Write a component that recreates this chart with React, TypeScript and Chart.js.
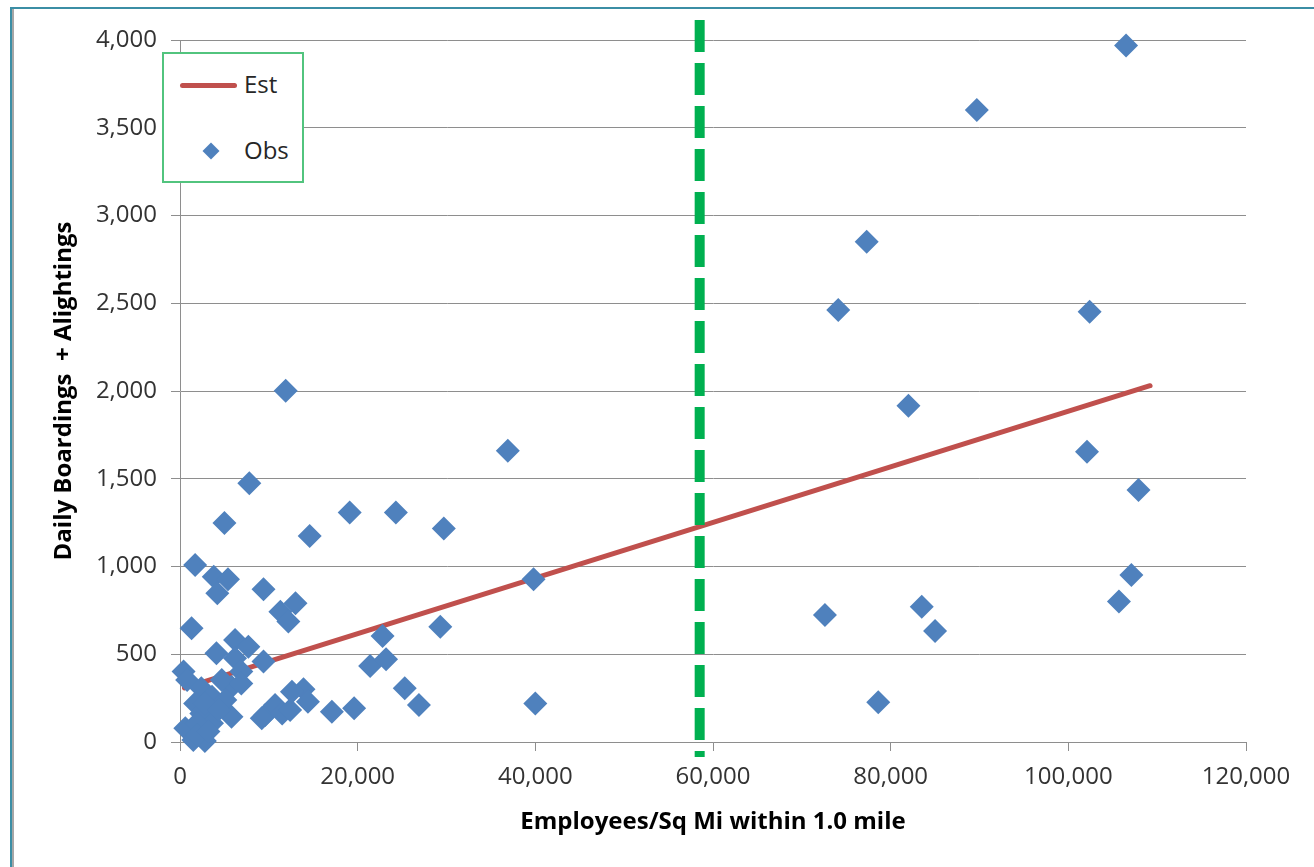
import React, { useEffect, useRef } from 'react';
import { Chart, registerables } from 'chart.js';

Chart.register(...registerables);

// Observed stations: employees / sq mi (x) vs daily boardings + alightings (y)
const obsX = [
  106500, 89700, 77300, 74100, 102400, 82000, 102100, 107900, 107100, 105700,
  72600, 83500, 85000, 78600, 36900, 19100, 24300, 29700, 14600, 39800,
  22800, 29300, 21400, 23200, 25300, 26900, 17100, 19600, 40000, 13900,
  14400, 11900, 7800, 5000, 1700, 3800, 5400, 4200, 9400, 13000,
  11300, 12200, 1300, 6200, 7700, 4100, 6200, 9400, 400, 6900,
  800, 2400, 5800, 3600, 1700, 5100, 2400, 5800, 600, 3600,
  1500, 2800, 9600, 10700, 11500, 9200, 12400, 12600, 2800, 4700,
  6900, 1900, 4300, 2000, 3200,
];
const obsY = [
  3968, 3601, 2851, 2462, 2452, 1916, 1654, 1436, 952, 800,
  724, 771, 632, 226, 1660, 1307, 1307, 1217, 1174, 927,
  604, 657, 433, 471, 306, 211, 173, 192, 220, 300,
  230, 2002, 1474, 1248, 1008, 942, 927, 847, 870, 790,
  742, 686, 648, 581, 543, 505, 477, 458, 401, 401,
  353, 306, 315, 258, 220, 239, 163, 144, 78, 107,
  11, 5, 154, 211, 163, 135, 182, 287, 220, 353,
  334, 107, 182, 40, 60,
];

// Estimated (trend) line
const estX = [500, 109200];
const estY = [308, 2030];

// Vertical threshold line (green dashed)
const thresholdX = [58500, 58500];
const thresholdY = [4114, -85];

const xTickMin = 0;
const xTickMax = 120000;
const xTickStep = 20000;
const yTickMin = 0;
const yTickMax = 4000;
const yTickStep = 500;

const xTitle = 'Employees/Sq Mi within 1.0 mile';
const yTitle = 'Daily Boardings  + Alightings';
const legendLabels = ['Est', 'Obs'];

const FONT = "'Open Sans', sans-serif";
const GRID = '#8E8E8E';

export default function App() {
  const canvasRef = useRef<HTMLCanvasElement | null>(null);

  useEffect(() => {
    const canvas = canvasRef.current;
    if (!canvas) return;
    const fmt = (v: any) => Number(v).toLocaleString('en-US');
    const chart = new Chart(canvas, {
      type: 'scatter',
      data: {
        datasets: [
          {
            label: 'Obs',
            data: obsX.map((x, i) => ({ x, y: obsY[i] })),
            pointStyle: 'rectRot',
            pointRadius: 12,
            backgroundColor: '#4F81BD',
            borderColor: '#4F81BD',
            borderWidth: 0,
            clip: false,
            order: 1,
          } as any,
          {
            label: 'Threshold',
            data: thresholdX.map((x, i) => ({ x, y: thresholdY[i] })),
            showLine: true,
            pointRadius: 0,
            borderColor: '#00B050',
            borderWidth: 10,
            borderDash: [32, 11],
            borderCapStyle: 'butt',
            clip: false,
            order: 2,
          } as any,
          {
            label: 'Est',
            data: estX.map((x, i) => ({ x, y: estY[i] })),
            showLine: true,
            pointRadius: 0,
            borderColor: '#C0504D',
            borderWidth: 5,
            borderCapStyle: 'round',
            clip: false,
            order: 3,
          } as any,
        ],
      },
      options: {
        responsive: false,
        animation: false,
        devicePixelRatio: 1,
        events: [],
        layout: { padding: { top: 40, right: 68, left: 0, bottom: 0 } },
        plugins: {
          legend: { display: false },
          tooltip: { enabled: false },
        },
        scales: {
          x: {
            type: 'linear',
            min: xTickMin,
            max: xTickMax,
            ticks: {
              stepSize: xTickStep,
              font: { family: FONT, size: 24 },
              color: '#333333',
              padding: 12,
              callback: fmt,
              maxRotation: 0,
            },
            grid: {
              drawOnChartArea: false,
              drawTicks: true,
              tickLength: 9,
              color: GRID,
            },
            border: { color: GRID, width: 1 },
            title: {
              display: true,
              text: xTitle,
              font: { family: FONT, size: 24, weight: 'bold' },
              color: '#000000',
              padding: { top: 0, bottom: 30 },
            },
            afterFit: (s: any) => {
              s.height = 125;
            },
          },
          y: {
            type: 'linear',
            min: yTickMin,
            max: yTickMax,
            ticks: {
              stepSize: yTickStep,
              font: { family: FONT, size: 24 },
              color: '#333333',
              padding: 14,
              callback: fmt,
            },
            grid: {
              color: GRID,
              tickLength: 9,
            },
            border: { color: GRID, width: 1 },
            title: {
              display: true,
              text: yTitle,
              font: { family: FONT, size: 24, weight: 'bold' },
              color: '#000000',
              padding: { top: 50, bottom: 0 },
            },
            afterFit: (s: any) => {
              s.width = 180;
            },
          },
        },
      } as any,
    });
    return () => chart.destroy();
  }, []);

  const textStyle: React.CSSProperties = {
    position: 'absolute',
    left: 80,
    fontFamily: FONT,
    fontSize: 24,
    lineHeight: '28px',
    color: '#262626',
    whiteSpace: 'nowrap',
  };

  return (
    <div style={{ position: 'absolute', left: 0, top: 0, width: 1314, height: 867, background: '#ffffff', overflow: 'hidden' }}>
      <canvas ref={canvasRef} width={1314} height={867} style={{ position: 'absolute', left: 0, top: 0, width: 1314, height: 867 }} />
      {/* outer frame */}
      <div style={{ position: 'absolute', left: 10, top: 7, width: 1304, height: 860, borderTop: '2px solid #3B8EA5', borderLeft: '2px solid #3B8EA5', boxSizing: 'border-box', pointerEvents: 'none' }} />
      <div style={{ position: 'absolute', left: 12, top: 9, width: 2, height: 858, background: '#A6A6A6', pointerEvents: 'none' }} />
      {/* legend */}
      <div style={{ position: 'absolute', left: 162, top: 52, width: 142, height: 131, border: '2px solid #52C47E', boxSizing: 'border-box', background: '#ffffff' }}>
        <div style={{ position: 'absolute', left: 16, top: 29, width: 57, height: 5, borderRadius: 3, background: '#C0504D' }} />
        <div style={{ ...textStyle, top: 16 }}>{legendLabels[0]}</div>
        <div style={{ position: 'absolute', left: 41, top: 91, width: 12, height: 12, background: '#4F81BD', transform: 'rotate(45deg)' }} />
        <div style={{ ...textStyle, top: 82 }}>{legendLabels[1]}</div>
      </div>
    </div>
  );
}
